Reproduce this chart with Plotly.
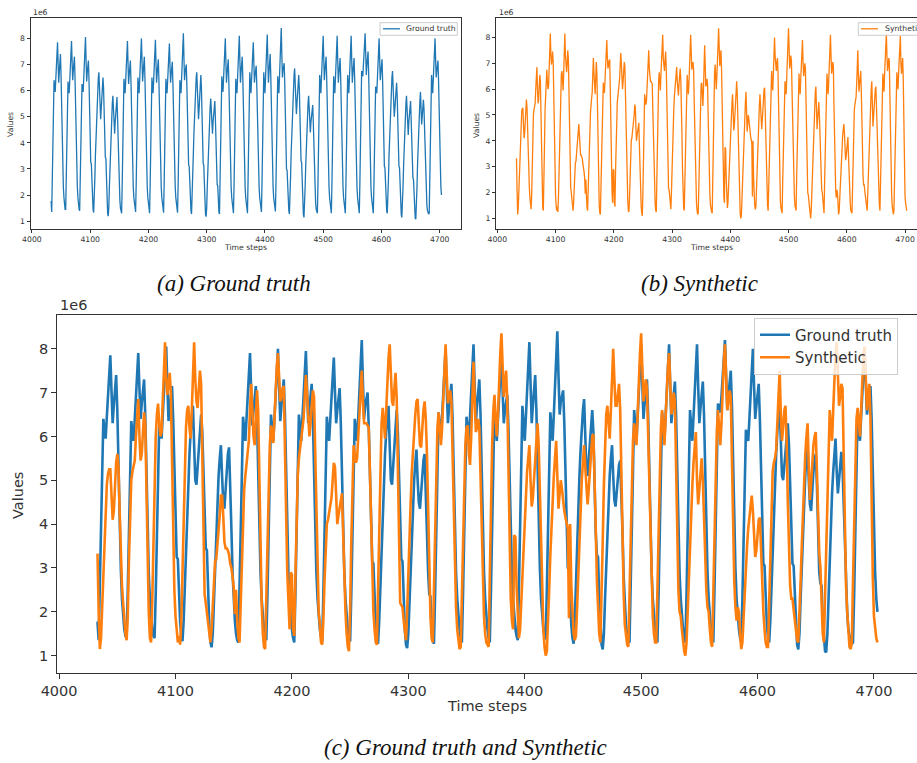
import plotly.graph_objects as go

# ---------------- data (values in units of 1e6, hourly time steps) ----------------
time_start = 4032

ground_truth = [
    1.75, 1.75, 1.35, 2.5, 3.8, 5.2, 6.4, 6.15, 5.95, 6.45, 6.95, 7.4, 7.85, 7.05, 6.3, 6.7, 7.1, 7.4, 6.6, 5.3, 4.0, 3.0, 2.3, 1.9,
    1.6, 1.45, 1.45, 2.5, 3.8, 5.1, 6.35, 6.1, 5.9, 6.4, 6.95, 7.45, 7.9, 7.1, 6.4, 6.75, 7.05, 7.3, 6.5, 5.2, 3.9, 2.9, 2.3, 1.9,
    1.6, 1.45, 1.4, 2.4, 3.7, 5.0, 6.25, 6.1, 5.95, 6.45, 7.0, 7.55, 8.05, 7.15, 6.35, 6.7, 6.95, 7.15, 6.4, 5.1, 3.9, 3.25, 3.2, 2.3,
    1.75, 1.45, 1.33, 1.8, 2.6, 3.5, 4.3, 5.0, 5.6, 6.1, 6.5, 6.7, 5.8, 5.0, 4.9, 5.3, 5.7, 6.1, 6.5, 6.1, 5.0, 3.9, 3.45, 3.4,
    2.4, 1.7, 1.3, 1.19, 1.5, 2.3, 3.1, 3.9, 4.6, 5.1, 5.5, 5.8, 5.1, 4.5, 4.35, 4.8, 5.3, 5.6, 5.75, 5.0, 3.9, 2.9, 2.2, 1.8,
    1.5, 1.35, 1.3, 2.4, 3.7, 5.1, 6.45, 6.15, 5.9, 6.4, 6.95, 7.45, 7.9, 7.05, 6.25, 6.6, 6.9, 7.15, 6.4, 5.1, 3.9, 2.9, 2.3, 1.9,
    1.6, 1.45, 1.35, 2.4, 3.8, 5.2, 6.5, 6.2, 5.9, 6.4, 7.0, 7.55, 8.0, 7.15, 6.35, 6.7, 7.0, 7.3, 6.5, 5.2, 3.9, 2.9, 2.3, 1.9,
    1.6, 1.4, 1.3, 2.4, 3.8, 5.2, 6.5, 6.2, 5.9, 6.4, 7.0, 7.5, 7.95, 7.1, 6.3, 6.65, 6.95, 7.2, 6.4, 5.1, 3.9, 2.9, 2.3, 1.9,
    1.6, 1.42, 1.32, 2.4, 3.7, 5.1, 6.45, 6.15, 5.9, 6.4, 6.9, 7.35, 7.8, 7.0, 6.3, 6.6, 6.85, 7.1, 6.3, 5.0, 3.8, 2.9, 2.3, 1.9,
    1.6, 1.42, 1.32, 2.4, 3.7, 5.1, 6.4, 6.15, 5.9, 6.45, 7.1, 7.65, 8.2, 7.25, 6.4, 6.7, 6.85, 7.0, 6.2, 5.0, 3.8, 3.15, 3.1, 2.2,
    1.7, 1.4, 1.27, 1.8, 2.6, 3.5, 4.3, 5.0, 5.6, 6.1, 6.5, 6.7, 5.8, 5.0, 4.9, 5.3, 5.8, 6.2, 6.6, 6.1, 4.9, 3.8, 3.2, 3.15,
    2.3, 1.6, 1.25, 1.17, 1.5, 2.3, 3.1, 3.8, 4.5, 5.0, 5.4, 5.7, 5.0, 4.5, 4.35, 4.8, 5.2, 5.45, 5.6, 4.9, 3.8, 2.9, 2.4, 2.35,
    1.6, 1.35, 1.27, 2.4, 3.8, 5.2, 6.55, 6.25, 5.95, 6.45, 7.0, 7.55, 8.0, 7.1, 6.3, 6.65, 6.95, 7.2, 6.4, 5.1, 3.9, 2.9, 2.3, 1.9,
    1.6, 1.4, 1.3, 2.4, 3.7, 5.1, 6.45, 6.15, 5.9, 6.45, 7.05, 7.6, 8.1, 7.15, 6.3, 6.7, 7.0, 7.3, 6.5, 5.2, 3.9, 2.9, 2.3, 1.9,
    1.6, 1.4, 1.3, 2.5, 3.9, 5.3, 6.7, 6.3, 5.9, 6.4, 6.95, 7.4, 7.85, 7.05, 6.3, 6.6, 6.8, 6.95, 6.2, 5.0, 3.8, 2.9, 2.3, 1.9,
    1.6, 1.45, 1.35, 2.5, 3.9, 5.3, 6.7, 6.3, 5.9, 6.45, 7.05, 7.6, 8.15, 7.2, 6.3, 6.7, 7.1, 7.4, 6.6, 5.3, 4.0, 3.0, 2.3, 1.9,
    1.6, 1.45, 1.37, 2.5, 3.8, 5.2, 6.55, 6.2, 5.9, 6.5, 7.15, 7.8, 8.4, 7.4, 6.5, 6.8, 6.95, 7.05, 6.3, 5.0, 3.8, 3.0, 2.95, 2.1,
    1.7, 1.4, 1.27, 1.8, 2.7, 3.6, 4.4, 5.1, 5.7, 6.2, 6.6, 6.85, 6.0, 5.2, 5.1, 5.5, 5.9, 6.3, 6.6, 6.1, 4.9, 3.8, 3.3, 3.25,
    2.3, 1.6, 1.25, 1.14, 1.5, 2.3, 3.1, 3.9, 4.6, 5.1, 5.5, 5.8, 5.1, 4.55, 4.4, 4.8, 5.1, 5.35, 5.45, 4.8, 3.8, 2.8, 2.1, 1.7,
    1.45, 1.32, 1.3, 2.4, 3.8, 5.2, 6.6, 6.25, 5.9, 6.45, 7.05, 7.6, 8.1, 7.2, 6.4, 6.75, 7.05, 7.3, 6.5, 5.2, 3.9, 2.9, 2.3, 1.9,
    1.6, 1.4, 1.3, 2.4, 3.8, 5.2, 6.55, 6.2, 5.9, 6.45, 7.05, 7.6, 8.1, 7.15, 6.3, 6.65, 7.0, 7.25, 6.5, 5.2, 3.9, 2.9, 2.3, 1.9,
    1.6, 1.4, 1.3, 2.4, 3.8, 5.2, 6.6, 6.25, 5.9, 6.45, 7.05, 7.6, 8.1, 7.15, 6.3, 6.65, 7.0, 7.25, 6.5, 5.2, 3.9, 2.9, 2.3, 1.9,
    1.6, 1.4, 1.3, 2.5, 3.9, 5.3, 6.75, 6.65, 6.55, 6.9, 7.3, 7.75, 8.2, 7.4, 6.6, 6.95, 7.25, 7.5, 6.7, 5.3, 4.0, 3.0, 2.3, 1.9,
    1.6, 1.4, 1.3, 2.3, 3.6, 4.9, 6.15, 6.0, 5.9, 6.4, 7.0, 7.5, 8.0, 7.15, 6.4, 6.7, 6.95, 7.2, 6.4, 5.1, 3.8, 3.1, 3.05, 2.2,
    1.7, 1.4, 1.3, 1.8, 2.6, 3.5, 4.3, 5.0, 5.6, 6.1, 6.5, 6.75, 5.9, 5.1, 5.0, 5.3, 5.7, 6.0, 6.3, 5.8, 4.7, 3.7, 3.1, 3.05,
    2.3, 1.6, 1.25, 1.14, 1.5, 2.3, 3.1, 3.9, 4.6, 5.1, 5.5, 5.8, 5.0, 4.45, 4.3, 4.8, 5.2, 5.45, 5.6, 4.9, 3.8, 2.9, 2.65, 2.6,
    1.8, 1.3, 1.1, 1.08, 1.5, 2.3, 3.2, 4.0, 4.7, 5.2, 5.6, 5.95, 5.2, 4.7, 5.0, 5.4, 5.65, 5.3, 4.4, 3.4, 2.6, 2.0, 1.6, 1.4,
    1.3, 1.27, 1.3, 2.4, 3.8, 5.2, 6.6, 6.25, 5.9, 6.45, 7.0, 7.5, 8.0, 7.2, 6.5, 6.75, 6.95, 7.15, 6.4, 5.1, 3.9, 2.9, 2.3, 2.0,
]

synthetic = [
    3.3, 3.3, 2.0, 1.15, 1.4, 2.1, 2.9, 3.7, 4.4, 4.9, 5.15, 5.25, 5.25, 4.6, 4.1, 4.3, 4.9, 5.4, 5.6, 5.3, 4.3, 3.2, 2.6, 2.2,
    1.8, 1.5, 1.35, 1.9, 3.2, 4.3, 5.0, 5.2, 5.3, 5.45, 6.0, 6.5, 6.85, 6.0, 5.45, 5.6, 6.1, 6.55, 6.3, 4.8, 3.2, 2.0, 1.4, 1.3,
    2.2, 3.8, 5.2, 6.0, 6.5, 6.75, 6.3, 6.0, 6.1, 6.9, 7.6, 8.15, 7.3, 6.95, 7.2, 7.45, 7.0, 5.5, 3.8, 2.5, 1.9, 1.5, 1.3, 1.45,
    1.25, 1.8, 3.0, 4.3, 5.4, 6.2, 6.6, 6.7, 6.2, 5.95, 6.6, 7.4, 8.15, 7.3, 6.8, 6.65, 7.0, 7.5, 7.2, 5.5, 3.6, 2.4, 2.2, 2.0,
    1.8, 1.5, 1.3, 1.6, 2.2, 2.8, 3.15, 3.2, 3.5, 3.8, 4.2, 4.65, 4.65, 4.2, 3.6, 3.45, 3.45, 3.4, 3.3, 3.1, 3.0, 2.8, 2.55, 1.95,
    2.5, 1.8, 1.4, 1.3, 2.2, 3.3, 4.3, 4.8, 5.1, 5.4, 5.7, 5.9, 6.6, 7.2, 6.6, 6.0, 5.8, 6.4, 7.05, 6.6, 5.0, 3.4, 2.2, 1.5,
    1.2, 1.15, 2.2, 3.6, 4.9, 5.8, 6.25, 6.0, 5.85, 6.4, 7.1, 7.6, 7.9, 7.2, 6.8, 6.9, 7.1, 7.15, 6.0, 4.3, 2.9, 2.0, 1.6, 2.9,
    2.85, 1.6, 1.45, 2.8, 4.2, 5.1, 5.5, 5.7, 5.9, 6.1, 6.4, 6.9, 7.4, 7.0, 6.4, 6.0, 6.3, 6.8, 7.05, 6.9, 5.6, 4.0, 2.8, 2.0,
    1.7, 1.3, 1.25, 1.8, 2.7, 3.5, 4.0, 4.1, 4.3, 4.45, 4.6, 5.0, 5.4, 5.3, 4.5, 4.0, 4.2, 4.4, 4.6, 4.7, 3.8, 2.8, 2.0, 1.5,
    1.2, 1.1, 2.0, 3.6, 5.0, 5.8, 5.6, 5.4, 5.5, 6.0, 6.6, 7.1, 7.5, 6.8, 6.3, 6.3, 6.3, 6.25, 6.2, 5.2, 3.9, 2.7, 2.0, 1.6,
    1.3, 1.25, 2.6, 4.2, 5.5, 6.3, 6.65, 6.3, 5.95, 6.6, 7.3, 7.8, 8.1, 7.2, 6.8, 6.7, 7.1, 7.45, 6.9, 5.2, 3.4, 2.2, 2.15, 2.1,
    1.8, 1.5, 1.35, 2.0, 3.0, 3.9, 4.5, 5.2, 5.7, 6.1, 6.5, 6.8, 6.85, 6.3, 5.8, 5.75, 6.2, 6.6, 6.8, 6.4, 5.6, 4.3, 2.9, 1.9,
    1.4, 1.3, 2.5, 4.0, 5.3, 6.2, 6.55, 6.2, 5.8, 6.2, 7.0, 7.6, 8.1, 7.4, 6.75, 6.9, 7.05, 6.8, 5.6, 4.2, 3.0, 2.1, 1.6, 1.3,
    1.15, 1.2, 2.3, 3.7, 4.9, 5.8, 6.2, 6.25, 5.6, 5.35, 6.0, 7.0, 7.7, 6.9, 6.1, 6.2, 6.4, 6.2, 5.0, 3.7, 2.6, 1.9, 1.5, 1.3,
    1.25, 1.2, 2.8, 4.5, 5.8, 6.6, 6.95, 6.4, 6.0, 6.5, 7.3, 7.9, 8.35, 7.6, 6.9, 7.2, 7.5, 6.8, 5.0, 3.4, 2.3, 1.8, 1.6, 3.75,
    3.7, 2.6, 1.8, 1.4, 1.6, 2.2, 2.9, 3.6, 4.2, 4.7, 5.2, 5.5, 5.8, 5.0, 4.4, 4.6, 5.1, 5.6, 6.0, 6.3, 5.8, 4.6, 3.3, 2.3,
    1.6, 1.2, 1.0, 1.1, 1.7, 2.5, 3.3, 4.0, 4.6, 5.1, 5.5, 5.9, 5.1, 4.35, 4.7, 5.0, 4.8, 4.5, 4.3, 4.15, 4.05, 3.9, 1.85, 4.0,
    2.6, 1.8, 1.5, 1.35, 1.45, 2.1, 2.9, 3.7, 4.4, 5.0, 5.4, 5.8, 5.3, 4.8, 4.45, 4.8, 5.3, 5.7, 6.0, 6.05, 5.2, 3.9, 2.7, 1.9,
    1.5, 1.3, 2.2, 3.6, 4.9, 5.9, 6.5, 6.7, 6.2, 5.95, 6.6, 7.4, 8.0, 7.3, 6.7, 6.7, 7.0, 7.2, 6.6, 5.0, 3.5, 2.4, 1.7, 1.4,
    1.25, 1.2, 2.4, 3.8, 5.0, 5.9, 6.3, 6.0, 5.8, 6.5, 7.3, 7.9, 8.35, 7.6, 6.8, 7.0, 7.3, 7.1, 6.0, 4.6, 3.4, 2.5, 1.9, 1.5,
    1.3, 1.3, 2.6, 4.0, 5.3, 6.2, 6.6, 6.1, 5.8, 6.4, 7.1, 7.6, 7.9, 7.0, 6.5, 6.7, 7.0, 6.8, 5.2, 3.6, 2.5, 2.0, 1.9, 1.6,
    1.3, 1.1, 1.0, 1.3, 2.0, 2.8, 3.6, 4.3, 4.9, 5.4, 5.9, 6.1, 5.0, 4.45, 4.8, 5.2, 5.5, 5.0, 4.0, 3.1, 2.5, 2.1, 2.0, 1.6,
    1.3, 1.2, 2.4, 3.9, 5.2, 6.1, 6.6, 6.2, 5.8, 6.3, 7.1, 7.7, 8.1, 7.3, 6.6, 6.8, 7.05, 6.9, 5.4, 3.9, 2.7, 2.1, 1.8, 2.1,
    2.0, 1.5, 1.15, 1.3, 1.9, 2.5, 3.1, 3.5, 3.9, 4.2, 4.45, 4.65, 4.3, 3.7, 3.25, 3.4, 3.8, 4.1, 4.15, 3.4, 2.6, 2.0, 1.6, 1.3,
    1.2, 1.2, 2.2, 3.4, 4.5, 5.2, 5.4, 5.5, 5.7, 6.2, 7.0, 7.5, 6.5, 5.9, 6.2, 6.6, 6.7, 5.9, 4.5, 3.3, 2.6, 2.3, 2.3, 2.05,
    1.8, 1.5, 1.35, 1.3, 1.9, 2.7, 3.5, 4.3, 5.0, 5.6, 6.0, 6.3, 5.3, 4.55, 4.9, 5.4, 5.8, 6.0, 6.1, 5.2, 4.1, 3.35, 3.0, 2.1,
    1.5, 1.3, 2.4, 3.8, 5.0, 6.0, 6.6, 6.2, 5.9, 6.6, 7.4, 7.9, 8.15, 7.3, 6.7, 6.9, 7.2, 7.1, 5.6, 3.9, 2.6, 2.0, 1.5, 1.2,
    1.15, 1.3, 2.7, 4.2, 5.5, 6.4, 6.65, 6.3, 6.0, 6.6, 7.4, 7.9, 8.05, 7.0, 6.6, 6.9, 7.2, 6.4, 4.4, 2.8, 1.9, 1.6, 1.4, 1.3,
]

time_steps = list(range(time_start, time_start + len(ground_truth)))
x_tick_values = [4000, 4100, 4200, 4300, 4400, 4500, 4600, 4700]
y_tick_values = [1, 2, 3, 4, 5, 6, 7, 8]
series_names = ["Ground truth", "Synthetic"]
captions = ["(a) Ground truth", "(b) Synthetic", "(c) Ground truth and Synthetic"]

# ---------------- styling ----------------
W, H = 917, 763
BLUE = "#1f77b4"
ORANGE = "#ff7f0e"
INK = "#333333"
FONT = "DejaVu Sans"
SERIF = "Liberation Serif"
SMALL = 7.7
BIG = 14.5


def fx(p):
    return p / W


def fy(p):
    return 1 - p / H


fig = go.Figure()
fig.add_trace(go.Scatter(x=time_steps, y=ground_truth, mode="lines", name=series_names[0],
                         line=dict(color=BLUE, width=1.3), xaxis="x", yaxis="y", showlegend=False))
fig.add_trace(go.Scatter(x=time_steps, y=synthetic, mode="lines", name=series_names[1],
                         line=dict(color=ORANGE, width=1.3), xaxis="x2", yaxis="y2", showlegend=False))
fig.add_trace(go.Scatter(x=time_steps, y=ground_truth, mode="lines", name=series_names[0],
                         line=dict(color=BLUE, width=2.6), xaxis="x3", yaxis="y3"))
fig.add_trace(go.Scatter(x=time_steps, y=synthetic, mode="lines", name=series_names[1],
                         line=dict(color=ORANGE, width=2.6), xaxis="x3", yaxis="y3"))


def axis(size, ticklen, lw, **kw):
    d = dict(showgrid=False, zeroline=False, showline=True, linecolor=INK, linewidth=lw,
             ticks="outside", ticklen=ticklen, tickwidth=1, tickcolor=INK,
             tickfont=dict(family=FONT, size=size, color=INK))
    d.update(kw)
    return d


xr = [3998.45, 4736.55]
xt = dict(tickvals=x_tick_values, ticktext=[str(v) for v in x_tick_values])
yt = dict(tickvals=y_tick_values, ticktext=[str(v) for v in y_tick_values])

layout = dict(
    width=W, height=H, margin=dict(l=0, r=0, t=0, b=0),
    paper_bgcolor="white", plot_bgcolor="white", template="none",
    xaxis=axis(SMALL, 3.5, 1, domain=[fx(31), fx(461)], range=xr, anchor="y", mirror=True, **xt),
    yaxis=axis(SMALL, 3.5, 1, domain=[fy(228.7), fy(18.3)], range=[0.71, 8.77], anchor="x", mirror=True, **yt),
    xaxis2=axis(SMALL, 3.5, 1, domain=[fx(496.4), 1.0], range=[3998.45, 4720.6], anchor="y2", mirror=True, **xt),
    yaxis2=axis(SMALL, 3.5, 1, domain=[fy(228.7), fy(18.3)], range=[0.6, 8.74], anchor="x2", mirror=False, **yt),
    xaxis3=axis(BIG, 5, 1.3, domain=[fx(57.3), fx(916.5)], range=xr, anchor="y3", mirror=True, **xt),
    yaxis3=axis(BIG, 5, 1.3, domain=[fy(672.7), fy(315)], range=[0.61, 8.77], anchor="x3", mirror=True, **yt),
    showlegend=True,
    legend=dict(x=fx(754), y=fy(317.5), xanchor="left", yanchor="top",
                bgcolor="rgba(255,255,255,0.8)", bordercolor="#cccccc", borderwidth=1,
                font=dict(family=FONT, size=15, color=INK), itemwidth=30, tracegroupgap=0),
)
fig.update_layout(**layout)

ann = []


def text(s, x, y, size, xanchor="center", angle=0, family=FONT, italic=False, color=INK):
    ann.append(dict(text=s, x=fx(x), y=fy(y), xref="paper", yref="paper", xanchor=xanchor,
                    yanchor="middle", showarrow=False, textangle=angle,
                    font=dict(family=family, size=size, color=color,
                              style="italic" if italic else "normal")))


# panel (a)
text("Values", 11, 125, SMALL, angle=-90)
text("Time steps", 245, 248, SMALL)
text("1e6", 31, 13, SMALL, xanchor="left")
# panel (b)
text("Values", 477, 125, SMALL, angle=-90)
text("Time steps", 711, 248, SMALL)
text("1e6", 496.5, 13, SMALL, xanchor="left")
# panel (c)
text("Values", 18, 496, BIG, angle=-90)
text("Time steps", 487, 706, BIG)
text("1e6", 57.5, 305, BIG, xanchor="left")
# captions
text(captions[0], 234, 283, 23, family=SERIF, italic=True, color="#111111")
text(captions[1], 699, 283, 23, family=SERIF, italic=True, color="#111111")
text(captions[2], 465, 747, 23, family=SERIF, italic=True, color="#111111")

# small legends for panels (a) and (b)
shapes = [
    dict(type="rect", xref="paper", yref="paper", x0=fx(380), x1=fx(457.3), y0=fy(35.3), y1=fy(22.7),
         line=dict(color="#cccccc", width=1), fillcolor="rgba(255,255,255,0.8)", layer="above"),
    dict(type="line", xref="paper", yref="paper", x0=fx(383), x1=fx(400), y0=fy(28.8), y1=fy(28.8),
         line=dict(color=BLUE, width=1.3), layer="above"),
    dict(type="rect", xref="paper", yref="paper", x0=fx(858.3), x1=fx(935), y0=fy(35.3), y1=fy(22.7),
         line=dict(color="#cccccc", width=1), fillcolor="rgba(255,255,255,0.8)", layer="above"),
    dict(type="line", xref="paper", yref="paper", x0=fx(861), x1=fx(878), y0=fy(28.8), y1=fy(28.8),
         line=dict(color=ORANGE, width=1.3), layer="above"),
]
text(series_names[0], 404, 28.8, SMALL, xanchor="left")
# the reference cuts this legend text at the right edge of the picture
text(series_names[1], 883, 28.8, SMALL, xanchor="left")

fig.update_layout(annotations=ann, shapes=shapes)
fig.write_html("out.html")
